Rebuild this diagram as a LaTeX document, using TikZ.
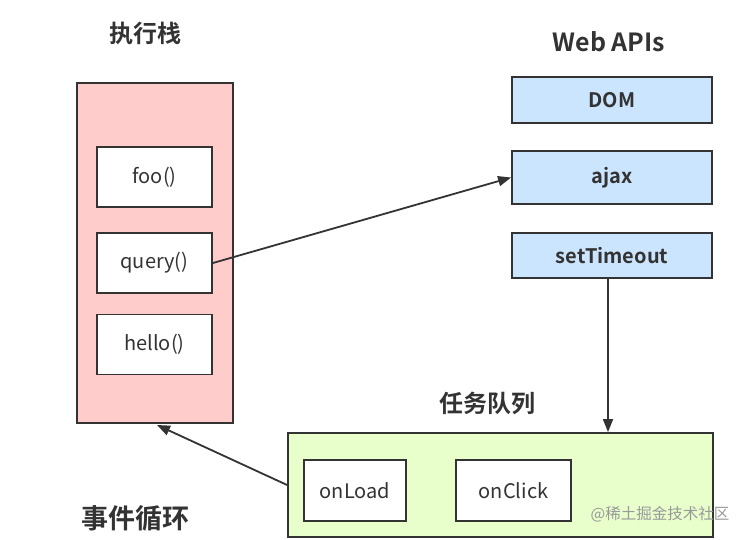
\documentclass[tikz,border=0pt]{standalone}
\usepackage{fontspec}
\setmainfont{Noto Sans CJK SC}
\newfontfamily\cjkb{Noto Sans CJK SC Bold}
\usetikzlibrary{arrows.meta}
\definecolor{stackpink}{HTML}{FFCCCC}
\definecolor{apiblue}{HTML}{CCE5FF}
\definecolor{queuegreen}{HTML}{E8FFCC}
\definecolor{ink}{HTML}{333333}
\begin{document}
\begin{tikzpicture}[x=1pt,y=-1pt,
  box/.style={draw=ink,line width=1.8pt,inner sep=0pt},
  fnbox/.style={box,fill=white,text=ink,font=\fontsize{20}{22}\selectfont},
  apibox/.style={box,fill=apiblue,text=ink,font=\cjkb\fontsize{20}{22}\selectfont},
  ttl/.style={text=ink,font=\cjkb\fontsize{24}{26}\selectfont},
  conn/.style={draw=ink,line width=1.8pt,-{Triangle[length=13pt,width=10pt]}}]
\useasboundingbox (0,0) rectangle (746,539);
% execution stack
\node[box,fill=stackpink,minimum width=156pt,minimum height=340pt] (stack) at (155,253) {};
\node[fnbox,minimum width=115pt,minimum height=60pt] (foo) at (154.5,177) {foo()};
\node[fnbox,minimum width=115pt,minimum height=60pt] (query) at (154.5,263) {query()};
\node[fnbox,minimum width=115pt,minimum height=60pt] (hello) at (154.5,344.5) {hello()};
\node[ttl] (t1) at (145,33) {执行栈};
% Web APIs
\node[ttl,font=\cjkb\fontsize{25}{27}\selectfont] (t2) at (609,42) {Web APIs};
\node[apibox,minimum width=200pt,minimum height=46pt] (dom) at (612,100) {DOM};
\node[apibox,minimum width=200pt,minimum height=53pt] (ajax) at (612,177.5) {ajax};
\node[apibox,minimum width=200pt,minimum height=45pt] (st) at (612,255.5) {setTimeout};
% task queue
\node[box,fill=queuegreen,minimum width=425pt,minimum height=104pt] (queue) at (500.5,485) {};
\node[fnbox,minimum width=102pt,minimum height=61pt] (onload) at (355,490.5) {onLoad};
\node[fnbox,minimum width=115pt,minimum height=61pt] (onclick) at (513.5,490.5) {onClick};
\node[ttl] (t3) at (487,403) {任务队列};
\node[ttl,font=\cjkb\fontsize{27}{29}\selectfont] (t4) at (135,518) {事件循环};
\node[text=black!40,font=\fontsize{15.5}{17}\selectfont] (wm) at (660,514) {@稀土掘金技术社区};
% connectors
\draw[conn] (query.east) -- (ajax.west);
\draw[conn] (st.south -| 608,0) -- (queue.north -| 608,0);
\coordinate (stackin) at (157,425);
\draw[conn] (queue.west) -- (stackin);
\end{tikzpicture}
\end{document}
